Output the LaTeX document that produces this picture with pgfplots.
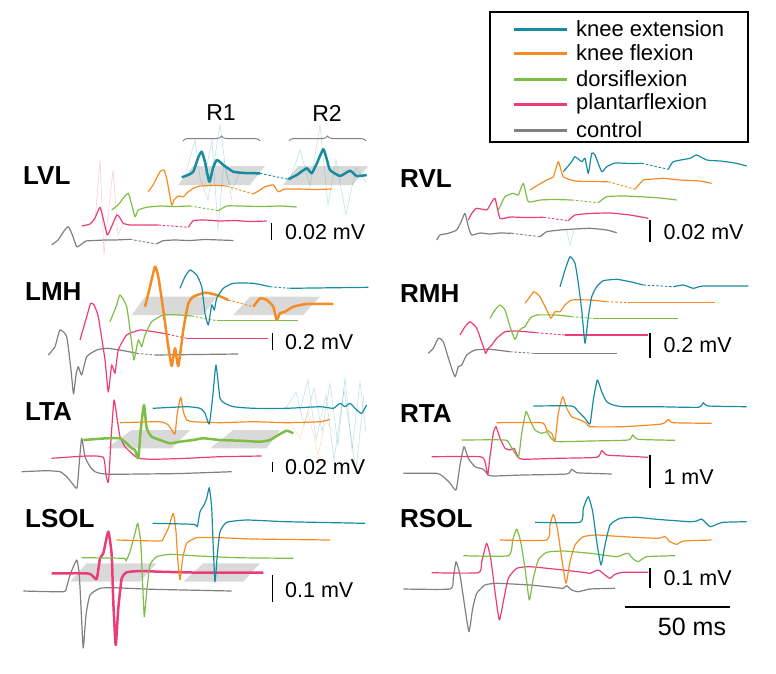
\documentclass[border=0pt]{standalone}
\usepackage{pgfplots}
\pgfplotsset{compat=1.18}
\usepackage{fontspec}
\setmainfont{Liberation Sans}
\usetikzlibrary{decorations.pathreplacing}
\definecolor{cKE}{RGB}{23,140,160}
\definecolor{cKF}{RGB}{245,140,35}
\definecolor{cDF}{RGB}{125,190,70}
\definecolor{cPF}{RGB}{236,60,120}
\definecolor{cCT}{RGB}{128,128,128}
\pgfplotsset{
  tr/.style={line width=1.2pt, line join=round, mark=none, smooth, tension=0.3},
  tk/.style={line width=2.5pt, line join=round, mark=none, smooth, tension=0.3},
  ds/.style={line width=0.9pt, dash pattern=on 2.5pt off 1.8pt, mark=none},
  fa/.style={line width=0.6pt, opacity=0.25, mark=none},
  sh/.style={fill=black!15, draw=none, mark=none},
}
\newcommand{\plab}[3]{\node[anchor=west, font=\bfseries\fontsize{26}{30}\selectfont, inner sep=0pt] at (axis cs:#1,#2) {#3};}
\newcommand{\slab}[3]{\node[anchor=west, font=\fontsize{21.5}{26}\selectfont, inner sep=0pt] at (axis cs:#1,#2) {#3};}
\begin{document}
\begin{tikzpicture}
\begin{axis}[hide axis, scale only axis, width=776pt, height=673pt,
  xmin=0, xmax=776, ymin=0, ymax=673, y dir=reverse, clip=false]
\path (axis cs:0,0) rectangle (axis cs:776,673);

% ================= shading =================
\addplot[sh] coordinates {(178,185)(193,166)(265,166)(250,185)} --cycle;
\addplot[sh] coordinates {(283,185)(298,166)(368,166)(353,185)} --cycle;
\addplot[sh] coordinates {(131.7,315)(145,296.7)(216.7,296.7)(203.3,315)} --cycle;
\addplot[sh] coordinates {(233.3,315)(250,296.7)(320,296.7)(303.3,315)} --cycle;
\addplot[sh] coordinates {(106.7,448.3)(131.7,430)(190,430)(171.7,448.3)} --cycle;
\addplot[sh] coordinates {(210,448.3)(233.3,430)(280,430)(266.7,448.3)} --cycle;
\addplot[sh] coordinates {(70,581.7)(86.7,563.3)(156.7,563.3)(140,581.7)} --cycle;
\addplot[sh] coordinates {(183.3,581.7)(203.3,563.3)(260,563.3)(243.3,581.7)} --cycle;

% ================= faint trials =================
\addplot[fa, cPF] coordinates {(95,222)(100,160)(104,255)(108,215)(113,170)(118,235)(124,222)};
\addplot[fa, cKE] coordinates {(185,176)(195,140)(200,178)(208,200)(220,125)(226,172)(232,190)(240,172)(260,175)};
\addplot[fa, cKE] coordinates {(290,180)(300,150)(310,186)(320,125)(328,205)(336,160)(346,215)(356,168)(366,182)};
\addplot[fa, cKE] coordinates {(205,175)(212,140)(218,230)(224,160)(232,200)};
\addplot[fa, cKE] coordinates {(286,408)(296,392)(304,425)(314,388)(322,432)(330,383)(338,445)(345,378)(352,450)(360,382)(366,432)};
\addplot[fa, cKE] coordinates {(300,410)(308,380)(316,440)(326,395)(334,460)(344,390)(356,470)(364,395)};
\addplot[fa, cKF] coordinates {(290,423)(300,438)(308,412)(318,455)(326,420)(332,430)};
\addplot[fa, cKE] coordinates {(566,228)(570,245)(574,230)};

% ================= LVL =================
\addplot[tr, cCT] coordinates {(51.7,245)(58,240)(64,231)(68.3,226.7)(72,234)(76.7,246.7)(81.7,244)(86,241)(95,240.5)(105,240)(115,240)(130,239.3)};
\addplot[ds, cCT] coordinates {(130,239.3)(156.7,244)};
\addplot[tr, cCT] coordinates {(156.7,244)(163,240.7)(175,240)(190,240.5)(205,239.5)(220,240)(233.3,240.5)};
\addplot[tr, cPF] coordinates {(81.7,226)(90,224)(95,218)(100,207.3)(104,222)(107.3,235)(111,228)(116.7,215)(120,218)(123.3,223.3)(130,225)(145,225)(158.3,225)};
\addplot[ds, cPF] coordinates {(158.3,225)(188.3,227.3)};
\addplot[tr, cPF] coordinates {(188.3,227.3)(193.3,220.7)(205,220)(220,221)(235,220.5)(250,221.5)(266.7,221)};
\addplot[tr, cDF] coordinates {(111.7,210)(118,205)(125,196)(128.3,193.3)(131,202)(135,216.7)(138.3,210)(146.7,207.3)(160,206)(175,206.5)(190,206)};
\addplot[ds, cDF] coordinates {(190,206)(218.3,210.7)};
\addplot[tr, cDF] coordinates {(218.3,210.7)(226.7,206)(240,206)(260,206.5)(280,206)(296.7,207)};
\addplot[tr, cKF] coordinates {(148.3,191.7)(153,185)(160,171.7)(164,170)(167,180)(171.7,205)(174,200)(178.3,196)(183.3,196.7)(188,192)(193.3,188.3)(200,186)(215,185.5)(226.7,186)};
\addplot[ds, cKF] coordinates {(226.7,186)(253.3,194)};
\addplot[tr, cKF] coordinates {(253.3,194)(260,190)(265,186.7)(273.3,185)(278.3,191.7)(285,189)(300,189)(315,189.5)(331.7,189)};
\addplot[tk, cKE] coordinates {(181.7,177.3)(188,175)(193.3,171.7)(198,158)(201.7,151.7)(205,162)(209.3,181.7)(213,168)(216.7,160)(220,162)(223.3,165)(233.3,171.7)(245,173)(260,173.3)};
\addplot[ds, cKE] coordinates {(260,173.3)(288.3,179.3)};
\addplot[tk, cKE] coordinates {(288.3,179.3)(296.7,175)(306.7,168.3)(311.7,173.3)(317,163)(323.3,149.3)(327,160)(330,170)(340,176)(350,170.7)(356.7,176)(366.7,175)};

% ================= RVL =================
\addplot[tr, cCT] coordinates {(436.7,240)(440,235)(448.3,233.3)(456.7,230)(461,222)(465,213.3)(468.3,226.7)(471.7,235)(480,233)(490,234)(500,233)(511.7,233.3)};
\addplot[ds, cCT] coordinates {(511.7,233.3)(540,236.7)};
\addplot[tr, cCT] coordinates {(540,236.7)(546.7,231.7)(560,230)(575,229)(590,228.3)(606.7,230)(616.7,232.7)};
\addplot[tr, cPF] coordinates {(468.3,220)(472,213)(476.7,208.3)(486.7,210)(490,205)(495,198.3)(500,218.3)(510,217)(525,217.5)(543.3,217.3)};
\addplot[ds, cPF] coordinates {(543.3,217.3)(568.3,220.7)};
\addplot[tr, cPF] coordinates {(568.3,220.7)(575,215)(590,213.5)(610,213)(630,215)(648.3,218.3)};
\addplot[tr, cDF] coordinates {(498.3,210)(505,196.7)(513.3,193.3)(518.3,195)(523.3,183.3)(528.3,201.7)(540,200)(555,199.5)(571.7,200)};
\addplot[ds, cDF] coordinates {(571.7,200)(598.3,202.7)};
\addplot[tr, cDF] coordinates {(598.3,202.7)(606.7,196.7)(625,196)(645,197)(660,198)(676.7,200)};
\addplot[tr, cKF] coordinates {(530,190)(535,186.7)(546.7,180)(553.3,176.7)(558.3,161.7)(563.3,176.7)(575,181)(590,181.5)(608.3,181.7)};
\addplot[ds, cKF] coordinates {(608.3,181.7)(635,189.3)};
\addplot[tr, cKF] coordinates {(635,189.3)(643.3,180)(655,179)(663.3,178.3)(680,180)(700,181)(711.7,183.3)};
\addplot[tr, cKE] coordinates {(563.3,171.7)(571.7,161.7)(575,156.7)(581.7,161.7)(585,158.3)(588.3,173.3)(591.7,153.3)(595,155)(601.7,171.7)(606.7,166.7)(615,163)(630,163.5)(641.7,163.3)};
\addplot[ds, cKE] coordinates {(641.7,163.3)(668.3,169.3)};
\addplot[tr, cKE] coordinates {(668.3,169.3)(673.3,161.7)(690,158.3)(696.7,155)(706.7,160)(720,161)(735,163)(746.7,166)};

% ================= LMH =================
\addplot[tr, cCT] coordinates {(48.3,355)(55,346.7)(60,330)(66.7,336.7)(71,370)(73.5,394)(76,375)(78.3,366.7)(81.7,375)(86.7,356.7)(96.7,350)(106.7,348.3)(120,350)(136.7,353.3)};
\addplot[ds, cCT] coordinates {(136.7,353.3)(155,355)};
\addplot[tr, cCT] coordinates {(155,355)(238.3,354)};
\addplot[tr, cPF] coordinates {(80,340)(86.7,316.7)(90.7,303.3)(94,305)(98.3,316.7)(105,360)(108.3,392)(111.7,365)(115,373.3)(118.3,350)(126.7,335)(140,330)(153.3,331.7)(163.3,333.3)};
\addplot[ds, cPF] coordinates {(163.3,333.3)(186.7,338.3)};
\addplot[tr, cPF] coordinates {(186.7,338.3)(268.3,338.3)};
\addplot[tr, cDF] coordinates {(110,321.7)(116.7,305)(120,295)(126.7,306.7)(131.7,343.3)(134,360)(138.3,340)(141.7,346.7)(145,335)(151.7,321.7)(163.3,315)(180,315)(191.7,316)};
\addplot[ds, cDF] coordinates {(191.7,316)(216.7,320.7)};
\addplot[tr, cDF] coordinates {(216.7,320.7)(298.3,320.7)};
\addplot[tk, cKF] coordinates {(145,306.7)(150,286.7)(155,266.7)(158.3,276.7)(163.3,310)(168.3,346.7)(171.7,366)(175,348.3)(178.3,366)(183.3,330)(188.3,303.3)(193.3,296.7)(205,292.7)(216.7,295)(228.3,300)};
\addplot[ds, cKF] coordinates {(228.3,300)(253.3,306.7)};
\addplot[tk, cKF] coordinates {(253.3,306.7)(260,298.3)(266.7,300)(273.3,306.7)(276.7,320)(280,313.3)(285,311.7)(293.3,306.7)(306.7,304)(333.3,304)};
\addplot[tr, cKE] coordinates {(180,288.3)(185,276.7)(190,270)(196.7,275)(201.7,286.7)(205,313.3)(208.3,325)(211.7,305)(214.3,310)(216.7,298.3)(223.3,288.3)(233.3,283.3)(253.3,283.3)(270,286.7)};
\addplot[ds, cKE] coordinates {(270,286.7)(290,288.3)};
\addplot[tr, cKE] coordinates {(290,288.3)(368.3,287.3)};

% ================= RMH =================
\addplot[tr, cCT] coordinates {(428.3,353.3)(433.3,348.3)(438.3,338.3)(443.3,341.7)(450,363.3)(455,376.7)(458.3,366.7)(461.7,365)(466.7,355)(475,350)(490,349.3)(510,351.7)};
\addplot[ds, cCT] coordinates {(510,351.7)(533.3,353.3)};
\addplot[tr, cCT] coordinates {(533.3,353.3)(616.7,353.3)};
\addplot[tr, cPF] coordinates {(460,335)(465,326.7)(470,321.7)(476.7,328.3)(483.3,346.7)(485.7,353.3)(488.3,348.3)(491.7,345)(496.7,338.3)(505,331.7)(516.7,331)(536.7,332.7)};
\addplot[ds, cPF] coordinates {(536.7,332.7)(565,335)};
\addplot[tr, cPF] coordinates {(565,335)(648.3,335)};
\addplot[tr, cDF] coordinates {(490,318.3)(495,310)(500,305)(505,310)(510,326.7)(515,339.3)(518.3,331.7)(521.7,328.3)(525,326.7)(530,318.3)(536.7,315)(556.7,315)(571.7,316.7)};
\addplot[ds, cDF] coordinates {(571.7,316.7)(593.3,318.3)};
\addplot[tr, cDF] coordinates {(593.3,318.3)(678.3,318.3)};
\addplot[tr, cKF] coordinates {(525,303.3)(530,296.7)(534,291.7)(540,296.7)(546.7,310)(551,318.3)(555,311.7)(560,311.7)(565,305)(571.7,300)(590,300)(606.7,301.7)};
\addplot[ds, cKF] coordinates {(606.7,301.7)(630,302.7)};
\addplot[tr, cKF] coordinates {(630,302.7)(715,302.7)};
\addplot[tr, cKE] coordinates {(560,286.7)(565,270)(570,256.7)(575,263.3)(578.3,283.3)(581.7,310)(585,343.3)(588.3,316.7)(591.7,296.7)(596.7,286.7)(603.3,280.7)(616.7,279.3)(630,281.7)(643.3,285)};
\addplot[ds, cKE] coordinates {(643.3,285)(673.3,286.7)};
\addplot[tr, cKE] coordinates {(673.3,286.7)(683.3,285)(693.3,288.3)(703.3,286)(748.3,286)};

% ================= LTA =================
\addplot[tr, cCT] coordinates {(21.7,471.7)(46.7,470.7)(60,471.7)(66.7,476.7)(72,483)(77,488)(79.5,460)(81.7,438.3)(85,456.7)(90,466.7)(95,471.7)(100,473.3)(110,474.3)(140,474)(180,473.5)(231.7,471.7)};
\addplot[tr, cPF] coordinates {(51.7,458.3)(86.7,456)(103.3,457.3)(106,475)(108.5,482)(111,440)(114,400)(117.3,420)(120,436.7)(125,446.7)(131.7,453.3)(138.3,458.3)(153.3,459.3)(186.7,458.3)(220,456.7)(261.7,456)};
\addplot[tk, cDF] coordinates {(83.3,440)(106.7,438.3)(120,438.3)(126.7,443.3)(131.7,448.3)(135,450)(138.3,458.3)(140.7,430)(144,405)(146.7,428.3)(151.7,436.7)(160,440)(170,443.3)(180,441.7)(193.3,440)(203.3,438.3)(220,440)(240,440.7)(260,441.7)(270,440)(278.3,435)(286.7,430.7)(293.3,433.3)};
\addplot[tr, cKF] coordinates {(120,422.7)(160,421.7)(168.3,425)(171.7,430)(175,434)(177.3,413.3)(180.7,397.3)(183.3,411.7)(186.7,420)(193.3,421.7)(220,422.7)(253.3,421.7)(286.7,422.7)(320,421.7)(330,419.3)};
\addplot[tr, cKE] coordinates {(152.7,408.3)(186.7,406.7)(200,408.3)(205,413.3)(209.3,424)(212.7,396.7)(216,365)(220,398.3)(225,403.3)(233.3,406.7)(253.3,408.3)(286.7,408.3)(320,406.7)(333.3,408.3)(340,403.3)(345,406.7)(350,403.3)(356.7,410)(361.7,413.3)(366.7,405)};

% ================= RTA =================
\addplot[tr, cCT] coordinates {(403.3,473.3)(436.7,473.3)(443.3,476.7)(450,483)(456,490)(460,465)(464,446.7)(468.3,458.3)(475,466.7)(483.3,469.3)(488.3,475)(493.3,476)(523.3,475)(566.7,474)(571.7,469.3)(576.7,472.7)(590,473.3)(611.7,474)};
\addplot[tr, cPF] coordinates {(431.7,456.7)(480,456.7)(485,461.7)(487.7,475)(490,456.7)(493.3,433.3)(496,426.7)(500,438.3)(505,448.3)(510,450)(514,448.3)(518.3,457.3)(523.3,459.3)(556.7,458.3)(596.7,457.3)(601.7,450.7)(606.7,455)(623.3,456)(648.3,457.3)};
\addplot[tr, cDF] coordinates {(461.7,440)(505,440)(510,445)(518.3,457.3)(521.7,433.3)(526,411.7)(530,420)(535,430)(541.7,433.3)(546.7,431.7)(550,436.7)(554,441)(560,441.7)(590,441)(628.3,440)(632.7,435)(638.3,439.3)(675,440.3)};
\addplot[tr, cKF] coordinates {(496.7,422.7)(541.7,422.7)(546.7,430)(551.7,433.3)(555,440.7)(558.3,413.3)(562.7,396.7)(566.7,408.3)(571.7,416.7)(580,420)(586.7,423.3)(590,426.7)(623.3,426.7)(661.7,424)(668.3,419.3)(673.3,422.7)(711.7,423.3)};
\addplot[tr, cKE] coordinates {(533.3,406)(571.7,406)(578.3,411.7)(585,418.3)(590,424)(593.3,400)(597.3,380)(601.7,391.7)(606.7,401.7)(613.3,405)(623.3,406.7)(656.7,406.7)(698.3,407.3)(703.3,402.7)(708.3,406)(746.7,406.7)};

% ================= LSOL =================
\addplot[tr, cCT] coordinates {(23.3,591)(63.3,591.7)(66.7,586.7)(70,575)(76.7,560)(79.3,575)(81.7,621.7)(83.3,648)(86,615)(90,595)(100,588.3)(113.3,587.7)(153.3,589.3)(231.7,591)};
\addplot[tk, cPF] coordinates {(51.7,573.3)(86.7,573.3)(91.7,575)(96.7,579)(100,558.3)(103.3,553.3)(108.3,531.7)(111.7,555)(113.3,601.7)(115.7,645)(118.3,608.3)(121.7,578.3)(126.7,572.3)(140,571)(160,571.7)(203.3,572.7)(263.3,572.7)};
\addplot[tr, cDF] coordinates {(81.7,557.7)(123.3,558.3)(126,561)(130,551.7)(135,533.3)(137.7,523.3)(140.7,541.7)(142.7,585)(144.3,616.7)(146.7,591.7)(150,565)(156.7,556.7)(170,554.3)(193.3,555.7)(236.7,557.7)(293.3,558.3)};
\addplot[tr, cKF] coordinates {(116.7,540)(160,541)(163.3,538.3)(168.3,528.3)(173.3,513.3)(176,531.7)(177.7,558.3)(180,580)(182.7,558.3)(186.7,543.3)(196.7,537.7)(220,537.7)(253.3,539)(330,540)};
\addplot[tr, cKE] coordinates {(152.7,523.3)(193.3,524.3)(197.3,526.7)(200,511.7)(204,505)(206.7,498.3)(209.3,487.7)(211.7,508.3)(213.3,548.3)(215,581.7)(217.3,555)(220,531.7)(226.7,522.3)(246.7,520)(286.7,521.7)(365,523.3)};

% ================= RSOL =================
\addplot[tr, cCT] coordinates {(403.3,589)(450,589)(453.3,578.3)(456,561.7)(460,575)(465,608.3)(469,631.7)(472.7,608.3)(476.7,593.3)(485,585)(496.7,583.3)(530,585)(556.7,587.7)(563.3,588.3)(566.7,585.7)(571.7,590)(578.3,591.7)(590,589)(615,588.3)};
\addplot[tr, cPF] coordinates {(431.7,572.7)(478.3,572.7)(481.7,561.7)(486.7,543.3)(490.7,558.3)(495,591.7)(499.3,620)(503.3,601.7)(508.3,578.3)(516.7,568.3)(530,566.7)(556.7,569.3)(583.3,572.3)(590,573.3)(598.3,570)(605,575)(610,578.3)(615,574.3)(623.3,572.3)(648.3,572.3)};
\addplot[tr, cDF] coordinates {(463.3,555.7)(508.3,555.7)(512.7,540)(516.7,529)(520.7,541.7)(525,568.3)(529.3,600)(533.3,578.3)(538.3,560)(546.7,552.3)(563.3,551)(590,553.3)(616.7,556.7)(623.3,554.3)(628.3,553.3)(633.3,559)(638.3,561.7)(646.7,556.7)(675,555.7)};
\addplot[tr, cKF] coordinates {(500,540)(546.7,540)(550,525)(553.3,514.3)(557.3,528.3)(561.7,558.3)(566,583.3)(570,561.7)(575,545)(583.3,536.7)(596.7,535)(623.3,536.7)(656.7,538.3)(665,536.7)(670,541.7)(676.7,544.3)(683.3,541)(711.7,540)};
\addplot[tr, cKE] coordinates {(535,522.3)(580,522.3)(583.3,508.3)(588.3,496.7)(592.7,511.7)(596.7,541.7)(601,565)(605,545)(610,525)(620,518.3)(636.7,517.3)(656.7,519.3)(690,521.7)(696.7,521)(701.7,519)(710,526.7)(716.7,524.3)(723.3,522.3)(746.7,521.7)};

% ================= labels =================
\plab{23}{176}{LVL}
\plab{400}{178.3}{RVL}
\plab{25}{291.7}{LMH}
\plab{400}{293.3}{RMH}
\plab{25}{411.7}{LTA}
\plab{400}{413.3}{RTA}
\plab{25}{518.3}{LSOL}
\plab{400}{518.3}{RSOL}

% scale bars
\draw[black, line width=1.4pt] (axis cs:271.7,223.3) -- (axis cs:271.7,240);
\slab{285}{231.7}{0.02 mV}
\draw[black, line width=1.4pt] (axis cs:650,220) -- (axis cs:650,241.7);
\slab{663.3}{231.7}{0.02 mV}
\draw[black, line width=1.4pt] (axis cs:272.3,333.3) -- (axis cs:272.3,350);
\slab{285}{341.7}{0.2 mV}
\draw[black, line width=1.4pt] (axis cs:650,333.3) -- (axis cs:650,358.3);
\slab{663.3}{345}{0.2 mV}
\draw[black, line width=1.4pt] (axis cs:272.3,461.7) -- (axis cs:272.3,471.7);
\slab{285}{467.3}{0.02 mV}
\draw[black, line width=1.4pt] (axis cs:650,455) -- (axis cs:650,488);
\slab{663.3}{477}{1 mV}
\draw[black, line width=1.4pt] (axis cs:272.3,575) -- (axis cs:272.3,601.7);
\slab{285}{590}{0.1 mV}
\draw[black, line width=1.4pt] (axis cs:650,568.3) -- (axis cs:650,588.3);
\slab{663.3}{578.3}{0.1 mV}
\draw[black, line width=1.4pt] (axis cs:625,607) -- (axis cs:730,607);
\node[font=\fontsize{25}{30}\selectfont, inner sep=0pt] at (axis cs:692,627) {50 ms};

% R1 R2 braces
\draw[black!50, line width=1pt, decorate, decoration={brace, amplitude=5pt, aspect=0.5}] (axis cs:183,141) -- (axis cs:260,141);
\draw[black!50, line width=1pt, decorate, decoration={brace, amplitude=5pt, aspect=0.5}] (axis cs:289,141) -- (axis cs:366,141);
\node[font=\fontsize{23}{28}\selectfont, inner sep=0pt] at (axis cs:221,113) {R1};
\node[font=\fontsize{23}{28}\selectfont, inner sep=0pt] at (axis cs:327,113) {R2};

% ================= legend =================
\draw[black, line width=1.5pt] (axis cs:490,12) rectangle (axis cs:748,142);
\addplot[line width=3pt, cKE] coordinates {(514,29)(567,29)};
\addplot[line width=3pt, cKF] coordinates {(514,53)(567,53)};
\addplot[line width=3pt, cDF] coordinates {(514,79)(567,79)};
\addplot[line width=3pt, cPF] coordinates {(514,104)(567,104)};
\addplot[line width=3pt, cCT] coordinates {(514,130)(567,130)};
\node[anchor=west, font=\fontsize{22}{26}\selectfont, inner sep=0pt] at (axis cs:576,29) {knee extension};
\node[anchor=west, font=\fontsize{22}{26}\selectfont, inner sep=0pt] at (axis cs:576,53) {knee flexion};
\node[anchor=west, font=\fontsize{22}{26}\selectfont, inner sep=0pt] at (axis cs:576,79) {dorsiflexion};
\node[anchor=west, font=\fontsize{22}{26}\selectfont, inner sep=0pt] at (axis cs:576,104) {plantarflexion};
\node[anchor=west, font=\fontsize{22}{26}\selectfont, inner sep=0pt] at (axis cs:576,130) {control};
\end{axis}
\end{tikzpicture}
\end{document}
